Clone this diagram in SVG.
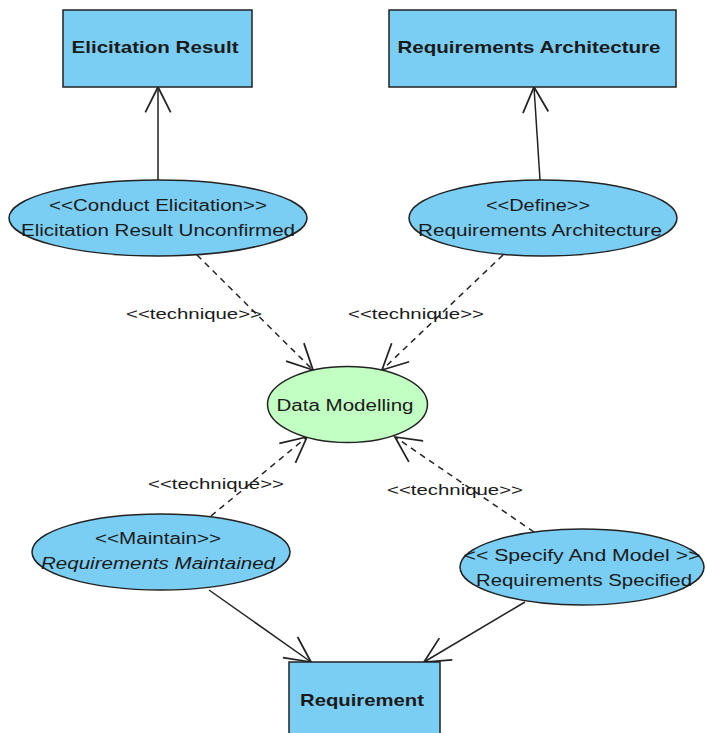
<svg xmlns="http://www.w3.org/2000/svg" width="707" height="733" viewBox="0 0 707 733">
  <style>
    .cls { fill: #7ACEF4; stroke: #222; stroke-width: 1.5; }
    .uc { fill: #7ACEF4; stroke: #222; stroke-width: 1.5; }
    .tech { fill: #C2FFC2; stroke: #222; stroke-width: 1.5; }
    .bold { font-family: "Liberation Sans", Arial, sans-serif; font-weight: bold; font-size: 17px; fill: #1a1a1a; text-anchor: middle; }
    .txt { font-family: "Liberation Sans", Arial, sans-serif; font-size: 16px; fill: #1a1a1a; text-anchor: middle; }
    .lbl { font-family: "Liberation Sans", Arial, sans-serif; font-size: 15px; fill: #1a1a1a; text-anchor: middle; }
    .solid { fill: none; stroke: #222; stroke-width: 1.5; }
    .dash { fill: none; stroke: #222; stroke-width: 1.5; stroke-dasharray: 6 5; }
  </style>
  <defs>
    <marker id="open" markerUnits="userSpaceOnUse" markerWidth="30" markerHeight="30" viewBox="-24 -13 26 26" refX="0" refY="0" orient="auto">
      <path d="M -22 -11 L 0 0 L -22 11" fill="none" stroke="#222" stroke-width="1.5"/>
    </marker>
  </defs>

  <rect width="707" height="733" fill="#ffffff"/>

  <!-- connectors -->
  <g id="connectors">
    <line class="solid" x1="158" y1="180" x2="158" y2="87" marker-end="url(#open)"/>
    <line class="solid" x1="540" y1="180" x2="534" y2="87" marker-end="url(#open)"/>
    <line class="dash" x1="197" y1="255" x2="313" y2="370" marker-end="url(#open)"/>
    <line class="dash" x1="503" y1="255" x2="382" y2="370" marker-end="url(#open)"/>
    <line class="dash" x1="211" y1="516" x2="307" y2="437" marker-end="url(#open)"/>
    <line class="dash" x1="534" y1="532" x2="395" y2="437" marker-end="url(#open)"/>
    <line class="solid" x1="209" y1="590" x2="311" y2="662" marker-end="url(#open)"/>
    <line class="solid" x1="525" y1="602" x2="424" y2="662" marker-end="url(#open)"/>
    <text class="lbl" x="194" y="319" textLength="136" lengthAdjust="spacingAndGlyphs">&lt;&lt;technique&gt;&gt;</text>
    <text class="lbl" x="416" y="319" textLength="136" lengthAdjust="spacingAndGlyphs">&lt;&lt;technique&gt;&gt;</text>
    <text class="lbl" x="216" y="489" textLength="136" lengthAdjust="spacingAndGlyphs">&lt;&lt;technique&gt;&gt;</text>
    <text class="lbl" x="455" y="495" textLength="136" lengthAdjust="spacingAndGlyphs">&lt;&lt;technique&gt;&gt;</text>
  </g>

  <!-- class nodes -->
  <g id="elicitation-result">
    <rect class="cls" x="63" y="10" width="189" height="77"/>
    <text class="bold" x="155" y="53" textLength="167" lengthAdjust="spacingAndGlyphs">Elicitation Result</text>
  </g>
  <g id="requirements-architecture">
    <rect class="cls" x="389" y="10" width="287" height="77"/>
    <text class="bold" x="529" y="53" textLength="263" lengthAdjust="spacingAndGlyphs">Requirements Architecture</text>
  </g>
  <g id="requirement">
    <rect class="cls" x="289" y="662" width="151" height="80"/>
    <text class="bold" x="362" y="706" textLength="124" lengthAdjust="spacingAndGlyphs">Requirement</text>
  </g>

  <!-- task nodes -->
  <g id="conduct-elicitation">
    <ellipse class="uc" cx="158" cy="218" rx="149" ry="38"/>
    <text class="txt" x="158" y="211" textLength="218" lengthAdjust="spacingAndGlyphs">&lt;&lt;Conduct Elicitation&gt;&gt;</text>
    <text class="txt" x="158" y="236" textLength="274" lengthAdjust="spacingAndGlyphs">Elicitation Result Unconfirmed</text>
  </g>
  <g id="define">
    <ellipse class="uc" cx="543" cy="218" rx="134" ry="38"/>
    <text class="txt" x="538" y="211" textLength="104" lengthAdjust="spacingAndGlyphs">&lt;&lt;Define&gt;&gt;</text>
    <text class="txt" x="540" y="236" textLength="244" lengthAdjust="spacingAndGlyphs">Requirements Architecture</text>
  </g>
  <g id="data-modelling">
    <ellipse class="tech" cx="347.5" cy="404.5" rx="80" ry="38"/>
    <text class="txt" x="345" y="411" textLength="137" lengthAdjust="spacingAndGlyphs">Data Modelling</text>
  </g>
  <g id="maintain">
    <ellipse class="uc" cx="161" cy="552" rx="129" ry="38"/>
    <text class="txt" x="158" y="544" textLength="126" lengthAdjust="spacingAndGlyphs">&lt;&lt;Maintain&gt;&gt;</text>
    <text class="txt" x="158" y="569" font-style="italic" textLength="234" lengthAdjust="spacingAndGlyphs">Requirements Maintained</text>
  </g>
  <g id="specify-and-model">
    <ellipse class="uc" cx="582" cy="567" rx="122" ry="38"/>
    <text class="txt" x="582" y="561" textLength="237" lengthAdjust="spacingAndGlyphs">&lt;&lt; Specify And Model &gt;&gt;</text>
    <text class="txt" x="584" y="586" textLength="216" lengthAdjust="spacingAndGlyphs">Requirements Specified</text>
  </g>
</svg>
